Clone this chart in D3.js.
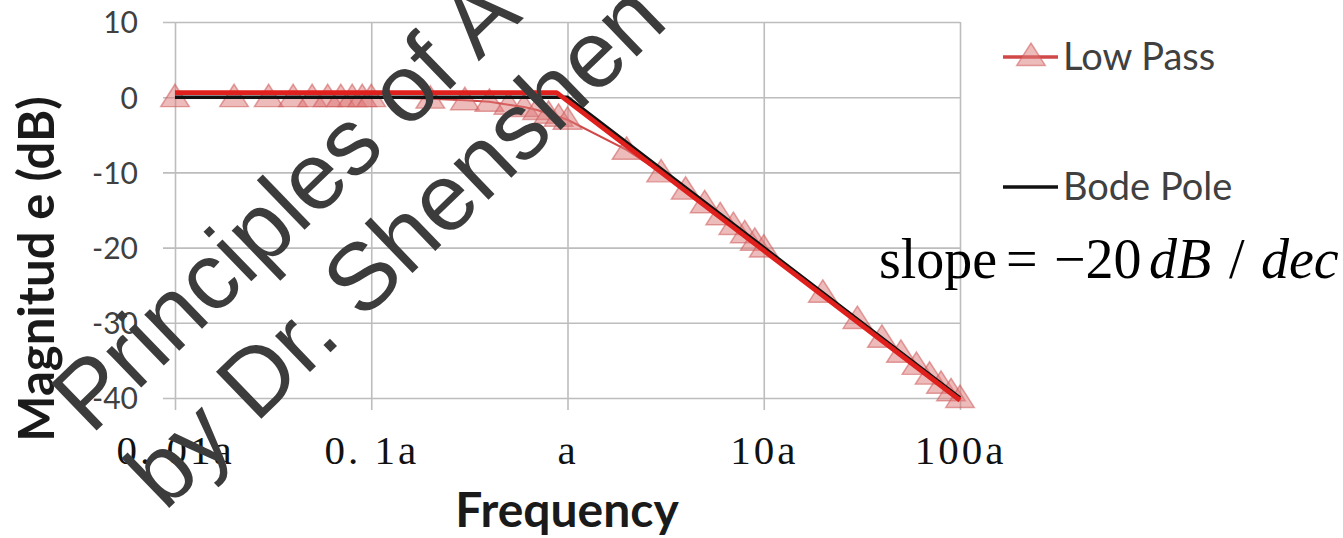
<!DOCTYPE html>
<html>
<head>
<meta charset="utf-8">
<script src="https://cdn.jsdelivr.net/npm/d3@7"></script>
<style>
  html, body { margin: 0; padding: 0; background: #ffffff; }
  svg { display: block; }
</style>
</head>
<body>
<svg id="chart" width="1343" height="538"></svg>
<script>
// Frequencies, in multiples of the pole frequency a
const freq = [
  0.01, 0.02, 0.03, 0.04, 0.05, 0.06, 0.07, 0.08, 0.09,
  0.1, 0.2, 0.3, 0.4, 0.5, 0.6, 0.7, 0.8, 0.9,
  1, 2, 3, 4, 5, 6, 7, 8, 9,
  10, 20, 30, 40, 50, 60, 70, 80, 90,
  100
];
// Low-pass magnitude response (dB) at each frequency
const lowPass = [
  0, 0, 0, 0, 0, 0, 0, 0, 0,
  0, -0.2, -0.4, -0.6, -1.0, -1.3, -1.7, -2.2, -2.6,
  -3.0, -7.0, -10.0, -12.3, -14.1, -15.7, -17.0, -18.1, -19.1,
  -20.0, -26.0, -29.5, -32.0, -34.0, -35.6, -36.9, -38.1, -39.1,
  -40.0
];
// Straight-line Bode asymptote of a single pole
const bodeFreq = [0.01, 1, 100];
const bodeDb = [0, 0, -40];
// Hand-drawn red asymptote sketched over the plot
const sketchFreq = [0.01, 0.88, 100];
const sketchDb = [0.6, 0.6, -40.3];

const yTicks = [10, 0, -10, -20, -30, -40];
const yTickLabels = ["10", "0", "-10", "-20", "-30", "-40"];
const xTicks = [0.01, 0.1, 1, 10, 100];
const xTickLabels = ["0. 01a", "0. 1a", "a", "10a", "100a"];
const seriesNames = ["Low Pass", "Bode Pole"];

const svg = d3.select("#chart");
const plot = { left: 175, right: 960, top: 22, bottom: 398 };
const tickExt = 12;

const x = d3.scaleLog().domain([0.01, 100]).range([plot.left, plot.right]);
const y = d3.scaleLinear().domain([-40, 10]).range([plot.bottom, plot.top]);

const gridColor = "#bdbdbd";
const sansFont = "Lato, 'Open Sans', sans-serif";
const serifFont = "'Liberation Serif', 'DejaVu Serif', serif";

// Horizontal gridlines with y tick labels
const yAxis = svg.append("g")
  .attr("transform", `translate(${plot.left - tickExt},0)`)
  .call(d3.axisLeft(y).tickValues(yTicks)
    .tickFormat((d, i) => yTickLabels[i])
    .tickSizeInner(-(plot.right - plot.left + tickExt))
    .tickSizeOuter(0).tickPadding(25));
yAxis.select(".domain").remove();
yAxis.selectAll("line").attr("stroke", gridColor).attr("stroke-width", 1.6);
yAxis.selectAll("text")
  .attr("font-family", sansFont).attr("font-size", 30)
  .attr("fill", "#404040").attr("dy", "0.36em");

// Vertical gridlines with x tick labels
const xAxis = svg.append("g")
  .attr("transform", `translate(0,${plot.bottom + tickExt})`)
  .call(d3.axisBottom(x).tickValues(xTicks)
    .tickFormat((d, i) => xTickLabels[i])
    .tickSizeInner(-(plot.bottom - plot.top + tickExt))
    .tickSizeOuter(0).tickPadding(25));
xAxis.select(".domain").remove();
xAxis.selectAll("line").attr("stroke", gridColor).attr("stroke-width", 1.6);
xAxis.selectAll("text")
  .attr("font-family", serifFont).attr("font-size", 41)
  .attr("letter-spacing", 3)
  .attr("fill", "#111").attr("dy", "0.71em");

// Axis titles
svg.append("text")
  .attr("transform", `translate(54,269) rotate(-90)`)
  .attr("text-anchor", "middle")
  .attr("font-family", sansFont).attr("font-weight", "bold")
  .attr("font-size", 49).attr("fill", "#1a1a1a")
  .text("Magnitud e (dB)");
svg.append("text")
  .attr("x", 567).attr("y", 527)
  .attr("text-anchor", "middle")
  .attr("font-family", sansFont).attr("font-weight", "bold")
  .attr("font-size", 48).attr("fill", "#1a1a1a")
  .text("Frequency");

const lowPassPts = freq.map((f, i) => [f, lowPass[i]]);
const bodePts = bodeFreq.map((f, i) => [f, bodeDb[i]]);
const sketchPts = sketchFreq.map((f, i) => [f, sketchDb[i]]);
const line = d3.line().x(d => x(d[0])).y(d => y(d[1]));

const lowPassColor = "#d04848";
const markerFill = "rgba(222,120,120,0.5)";
const markerStroke = "rgba(205,90,90,0.55)";
const triangle = d3.symbol().type(d3.symbolTriangle).size(320);

// Low-pass response: thin line and triangle markers
svg.append("path")
  .attr("d", line(lowPassPts))
  .attr("fill", "none").attr("stroke", lowPassColor).attr("stroke-width", 2);
svg.append("g").selectAll("path")
  .data(lowPassPts).join("path")
  .attr("d", triangle)
  .attr("transform", d => `translate(${x(d[0])},${y(d[1]) + 2}) scale(1.05,0.95)`)
  .attr("fill", markerFill).attr("stroke", markerStroke).attr("stroke-width", 1.5);

// Bode asymptote
svg.append("path")
  .attr("d", line(bodePts))
  .attr("fill", "none").attr("stroke", "#111").attr("stroke-width", 3.5);

// Red sketched asymptote
svg.append("path")
  .attr("d", line(sketchPts))
  .attr("fill", "none").attr("stroke", "#e0201c").attr("stroke-width", 4.8)
  .attr("stroke-linejoin", "round");

// Legend
const legend = svg.append("g").attr("font-family", sansFont).attr("font-size", 38).attr("fill", "#404040");
const legendRows = [57, 187];
seriesNames.forEach((name, i) => {
  const g = legend.append("g").attr("transform", `translate(0,${legendRows[i]})`);
  g.append("line").attr("x1", 1003).attr("x2", 1058).attr("y1", 0).attr("y2", 0)
    .attr("stroke", i === 0 ? lowPassColor : "#111").attr("stroke-width", 3.5);
  if (i === 0) {
    g.append("path").attr("d", triangle)
      .attr("transform", "translate(1031,1) scale(1.05,0.95)")
      .attr("fill", markerFill).attr("stroke", markerStroke).attr("stroke-width", 1.5);
  }
  g.append("text").attr("x", 1063).attr("y", 0).attr("dy", "0.35em").text(name);
});

// Slope annotation, laid out like an equation-editor object
const eq = svg.append("text")
  .attr("y", 278)
  .attr("font-family", serifFont).attr("font-size", 56).attr("fill", "#000");
eq.append("tspan").attr("x", 879).text("slope");
eq.append("tspan").attr("x", 1006).text("=");
eq.append("tspan").attr("x", 1054).text("\u221220");
eq.append("tspan").attr("x", 1149).attr("font-style", "italic").text("dB");
eq.append("tspan").attr("x", 1229).text("/");
eq.append("tspan").attr("x", 1261).attr("font-style", "italic").text("dec");

// Watermark
const wm = svg.append("g")
  .attr("transform", "translate(91,436) rotate(-44)")
  .attr("font-family", "'Liberation Sans', Arial, sans-serif")
  .attr("font-size", 95).attr("fill", "#3c3c3c");
wm.append("text").attr("x", 0).attr("y", 0).text("Principles of A");
wm.append("text").attr("x", 0).attr("y", 106).text("by Dr. Shenshen");
</script>
</body>
</html>
